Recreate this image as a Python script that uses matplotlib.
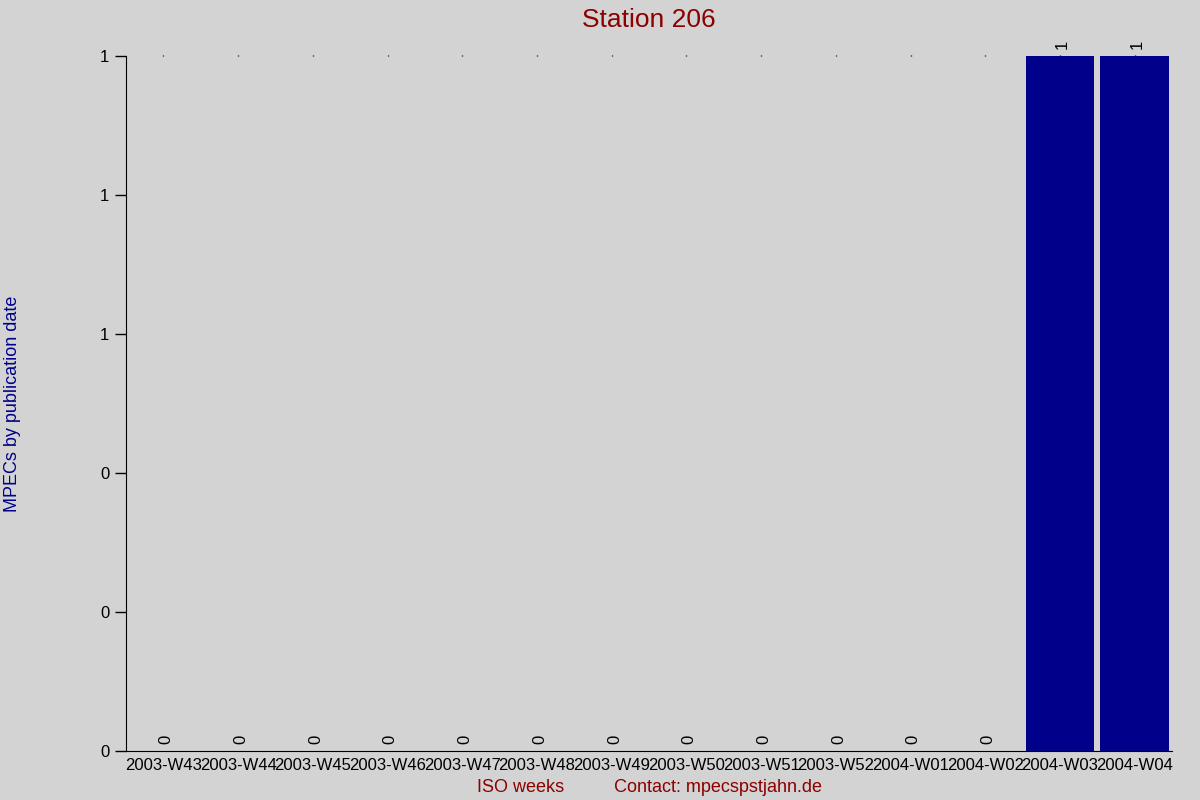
import matplotlib
matplotlib.use('Agg')

import matplotlib.pyplot as plt
import numpy as np

weeks = ['2003-W43', '2003-W44', '2003-W45', '2003-W46', '2003-W47',
         '2003-W48', '2003-W49', '2003-W50', '2003-W51', '2003-W52',
         '2004-W01', '2004-W02', '2004-W03', '2004-W04']
mpecs = [0, 0, 0, 0, 0, 0, 0, 0, 0, 0, 0, 0, 1, 1]
yticks = [0, 0.2, 0.4, 0.6, 0.8, 1.0]

plt.rcParams['font.family'] = ['Liberation Sans', 'DejaVu Sans']

bg = '#d3d3d3'
fig = plt.figure(figsize=(12, 8), dpi=100, facecolor=bg)
ax = fig.add_axes([0.105, 0.06125, 0.8717, 0.86875], facecolor=bg)

x = np.arange(len(weeks))
ax.bar(x, mpecs, width=0.92, color='#00008b')

# value labels over each bar
for i in range(len(weeks)):
    ax.annotate('%d' % mpecs[i], (x[i], mpecs[i]), xytext=(2, 5),
                textcoords='offset points', ha='center', va='bottom',
                rotation=90, fontsize=12, color='black')

ax.set_xlim(-0.5, len(weeks) - 0.5)
ax.set_ylim(0, 1)
ax.set_xticks(x)
ax.set_xticklabels(weeks, fontsize=12)
ax.set_yticks(yticks)
ax.set_yticklabels(['%.0f' % v for v in yticks], fontsize=12)

ax.tick_params(axis='x', bottom=False, top=True, length=1, width=1, pad=4)
ax.tick_params(axis='y', direction='out', length=8, width=1, pad=4)

for s in ['top', 'right']:
    ax.spines[s].set_visible(False)

ax.set_title('Station 206', fontsize=19, color='#8b0000', pad=21)
ax.set_xlabel('ISO weeks          Contact: mpecspstjahn.de', fontsize=13,
              color='#8b0000', labelpad=4)
ax.set_ylabel('MPECs by publication date', fontsize=13, color='#00008b')
ax.yaxis.set_label_coords(-0.1, 0.5)

plt.savefig('out.png', facecolor=bg)
